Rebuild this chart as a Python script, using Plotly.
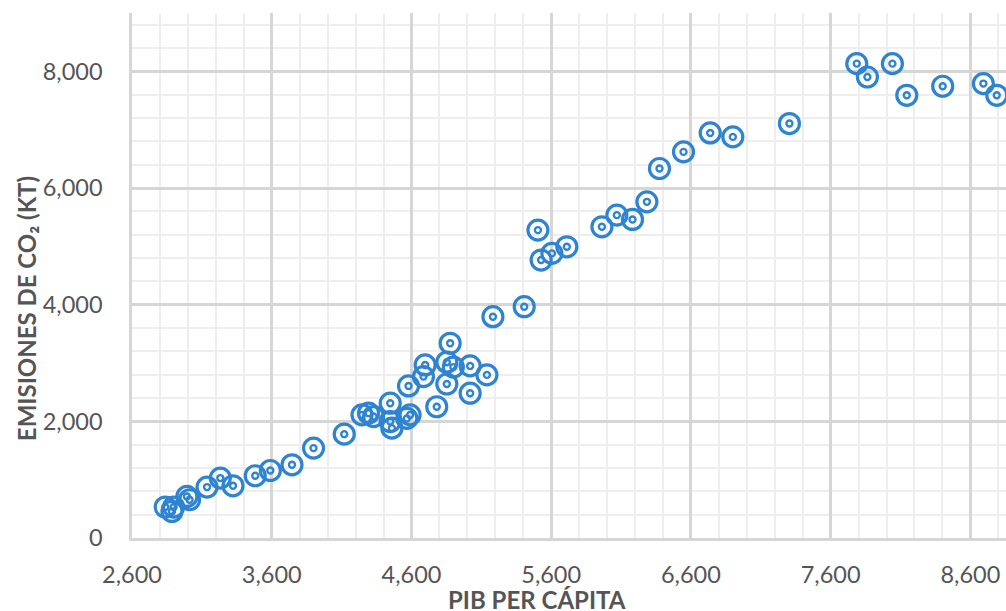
import plotly.graph_objects as go

# PIB per cápita (x) and emisiones de CO2 en kt (y)
pib = [2838, 2898, 2886, 2993, 3012, 3137, 3232, 3323, 3482, 3590, 3745, 3899, 4119,
       4246, 4293, 4329, 4448, 4448, 4460, 4567, 4590, 4579, 4686, 4698, 4781, 4853,
       4853, 4877, 4900, 5020, 5020, 5140,
       5183, 5407, 5505, 5528, 5605, 5712, 5963, 6070, 6182, 6285, 6375,
       6547, 6738, 6900, 7305, 7787, 7863, 8042, 8145, 8402, 8693, 8789]
co2 = [531, 531, 455, 712, 656, 873, 1027, 895, 1067, 1157, 1255, 1541, 1780,
       2111, 2140, 2082, 2311, 1996, 1883, 2050, 2110, 2607, 2767, 2967, 2250, 2640,
       3014, 3338, 2930, 2950, 2482, 2796,
       3794, 3965, 5278, 4765, 4879, 4992, 5335, 5535, 5461, 5763, 6334,
       6619, 6944, 6876, 7105, 8132, 7903, 8132, 7589, 7744, 7790, 7589]

x_ticks = [2600, 3600, 4600, 5600, 6600, 7600, 8600]
y_ticks = [0, 2000, 4000, 6000, 8000]

BLUE = "#2E84D0"
TEXT = "#555555"
TICKFONT = dict(family="Lato, sans-serif", size=23.5, color=TEXT)
TITLEFONT = dict(family="Lato, sans-serif", size=24, color=TEXT)

fig = go.Figure()
fig.add_trace(go.Scatter(x=pib, y=co2, mode="markers", hoverinfo="skip",
                         marker=dict(symbol="circle-open", size=20, color=BLUE,
                                     line=dict(color=BLUE, width=3.2))))
fig.add_trace(go.Scatter(x=pib, y=co2, mode="markers", hoverinfo="skip",
                         marker=dict(symbol="circle-open", size=6, color=BLUE,
                                     line=dict(color=BLUE, width=2.4))))

fig.update_layout(
    width=1006, height=611,
    margin=dict(l=132, r=0, t=13, b=73, autoexpand=False),
    paper_bgcolor="white", plot_bgcolor="white",
    showlegend=False,
    xaxis=dict(range=[2600, 8855], tickvals=x_ticks, tickformat=",",
               showgrid=True, gridcolor="#d6d6d6", gridwidth=2.5,
               minor=dict(dtick=200, tick0=2600, showgrid=True,
                          gridcolor="#eeeeee", gridwidth=2),
               showline=True, linecolor="#d6d6d6", linewidth=2.5,
               zeroline=False, tickfont=TICKFONT, ticks="",
               ticklabelstandoff=14),
    yaxis=dict(range=[0, 9000], tickvals=y_ticks, tickformat=",",
               showgrid=True, gridcolor="#d6d6d6", gridwidth=2.5,
               minor=dict(dtick=400, tick0=0, showgrid=True,
                          gridcolor="#eeeeee", gridwidth=2),
               showline=True, linecolor="#d6d6d6", linewidth=2.5,
               zeroline=False, tickfont=TICKFONT, ticks="",
               ticklabelstandoff=22),
    annotations=[
        dict(text="<b>PIB PER CÁPITA</b>", xref="paper", yref="paper",
             x=0.4636, y=-0.1175, xanchor="center", yanchor="middle",
             showarrow=False, font=TITLEFONT),
        dict(text="<b>EMISIONES DE CO₂ (KT)</b>", xref="paper", yref="paper",
             x=-0.1198, y=0.4365, xanchor="center", yanchor="middle",
             textangle=-90, showarrow=False, font=TITLEFONT),
    ],
)

fig.write_html("out.html", config={"displayModeBar": False},
               post_script="document.body.style.margin='0';document.body.style.overflow='hidden';")
